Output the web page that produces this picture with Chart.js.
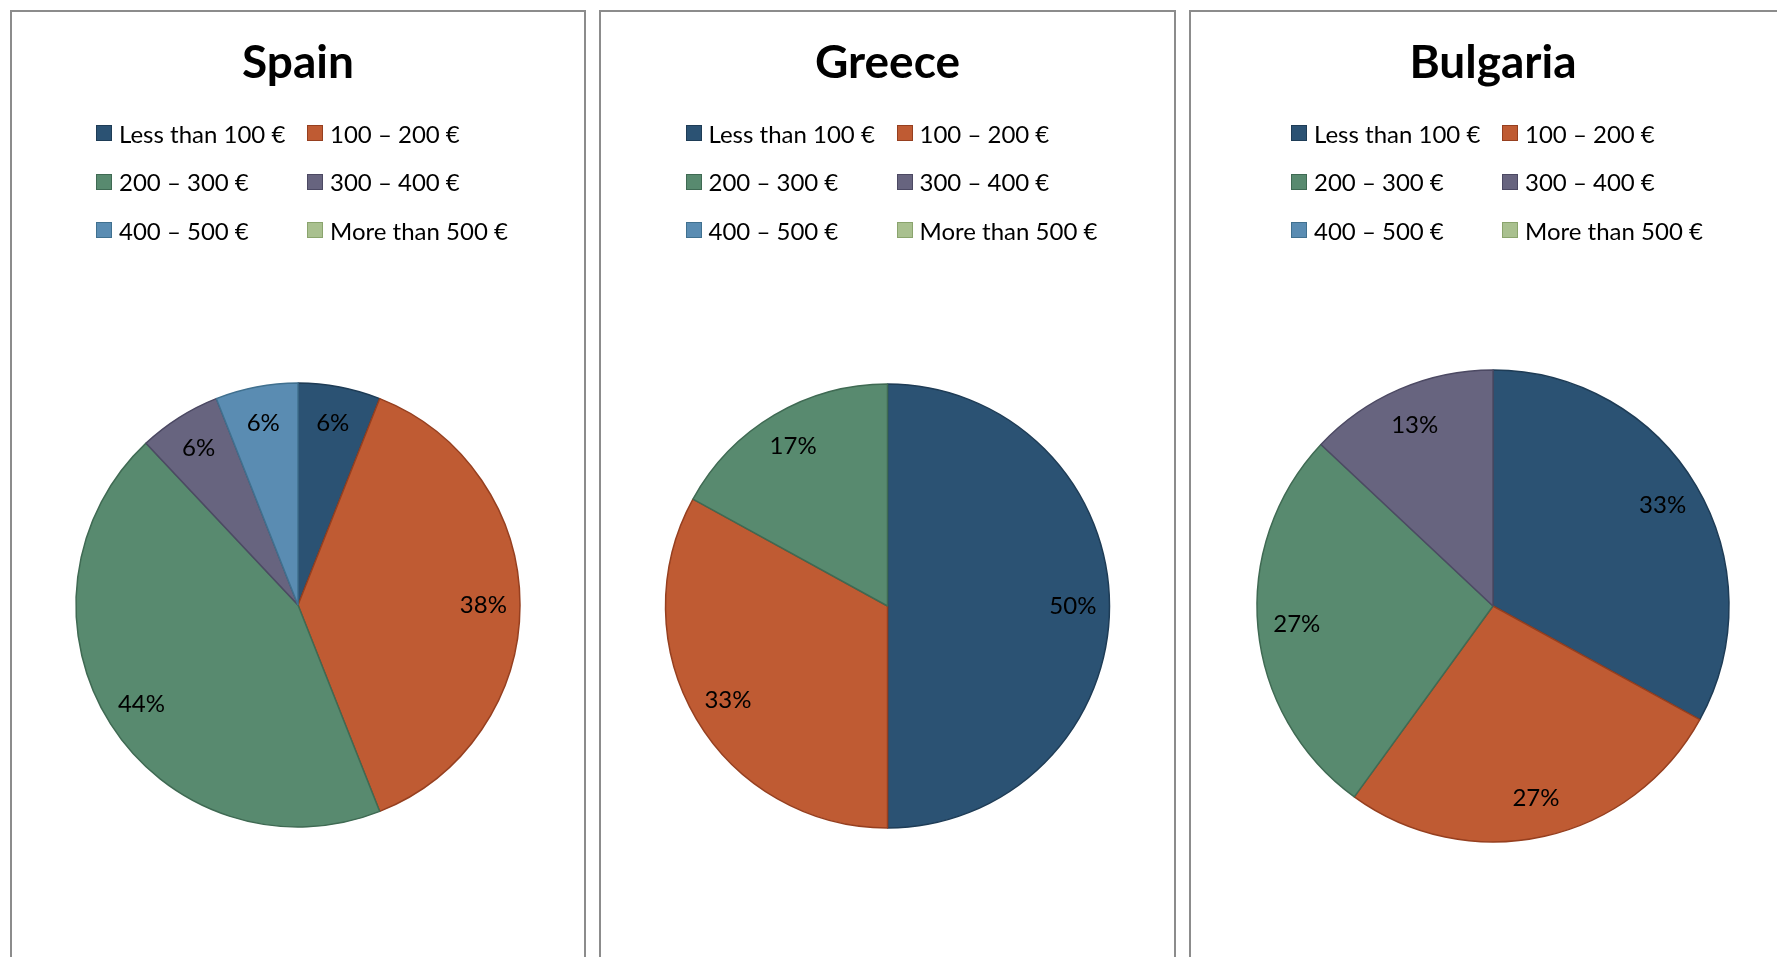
<!DOCTYPE html>
<html>
<head>
<meta charset="utf-8">
<script src="https://cdn.jsdelivr.net/npm/chart.js@4.4.1/dist/chart.umd.min.js"></script>
<style>
html, body { margin:0; padding:0; background:#ffffff; overflow:hidden; width:1777px; height:957px; }
.panel { position:absolute; top:10px; height:1150px; border:2px solid #8c8c8c; background:#fff; }
.panel canvas { position:absolute; left:0; top:0; }
.legend { position:absolute; top:97px; left:50%; margin-left:-202px; width:404px;
  display:grid; grid-template-columns:211px 193px; grid-auto-rows:48.5px;
  font-family:Lato, "Liberation Sans", sans-serif; font-size:24px; color:#000; }
.item { display:flex; align-items:center; white-space:nowrap; }
.box { width:14px; height:14px; border:1px solid; margin-right:7px; flex:none; }
</style>
</head>
<body>
<div class="panel" style="left:10px;width:572px"><canvas id="c0"></canvas><div class="legend" id="l0"></div></div>
<div class="panel" style="left:599px;width:573px"><canvas id="c1"></canvas><div class="legend" id="l1"></div></div>
<div class="panel" style="left:1189px;width:604px"><canvas id="c2"></canvas><div class="legend" id="l2"></div></div>
<script>
// ---- data ----
const categories = ['Less than 100 €', '100 – 200 €', '200 – 300 €', '300 – 400 €', '400 – 500 €', 'More than 500 €'];
const countries = ['Spain', 'Greece', 'Bulgaria'];
const spainValues = [6, 38, 44, 6, 6, 0];
const greeceValues = [50, 33, 17, 0, 0, 0];
const bulgariaValues = [33, 27, 27, 13, 0, 0];

// ---- styles ----
const fillColors = ['#2b5273', '#bf5b33', '#588a6f', '#67647f', '#5a8cb2', '#a9c08f'];
const edgeColors = ['#1e3c56', '#963f1f', '#3f6a53', '#4c4963', '#40708f', '#8aa46d'];

const pctLabels = {
  id: 'pctLabels',
  afterDatasetsDraw(chart) {
    const ctx = chart.ctx;
    const data = chart.data.datasets[0].data;
    const total = data.reduce((a, b) => a + b, 0);
    const meta = chart.getDatasetMeta(0);
    ctx.save();
    ctx.font = '24px Lato';
    ctx.fillStyle = '#000';
    ctx.textAlign = 'center';
    ctx.textBaseline = 'middle';
    meta.data.forEach((arc, i) => {
      const v = data[i];
      if (!v) return;
      const p = arc.getProps(['x', 'y', 'startAngle', 'endAngle', 'outerRadius'], true);
      const mid = (p.startAngle + p.endAngle) / 2;
      const r = p.outerRadius * 0.835;
      ctx.fillText(Math.round(v / total * 100) + '%', p.x + Math.cos(mid) * r, p.y + Math.sin(mid) * r);
    });
    ctx.restore();
  }
};

const htmlLegend = {
  id: 'htmlLegend',
  afterUpdate(chart, args, opts) {
    const el = document.getElementById(opts.containerID);
    el.innerHTML = '';
    const items = chart.options.plugins.legend.labels.generateLabels(chart);
    items.forEach((it, i) => {
      const d = document.createElement('div');
      d.className = 'item';
      const b = document.createElement('span');
      b.className = 'box';
      b.style.background = fillColors[i];
      b.style.borderColor = edgeColors[i];
      const t = document.createElement('span');
      t.textContent = it.text;
      d.appendChild(b); d.appendChild(t);
      el.appendChild(d);
    });
  }
};

const seriesList = [spainValues, greeceValues, bulgariaValues];
const panelWidths = [572, 573, 604];
const centersY = [605, 606, 606];
const radii = [222, 222, 236];

const canvasTop = 12, canvasH = 1150;
const titleSize = 46, titleLH = 1.2, titlePadTop = 23.5, titlePadBottom = 10;

countries.forEach((name, k) => {
  const cv = document.getElementById('c' + k);
  cv.width = panelWidths[k];
  cv.height = canvasH;
  const T = canvasTop + titlePadTop + titleSize * titleLH + titlePadBottom;
  const B = 2 * centersY[k] - T;
  const padBottom = canvasTop + canvasH - B;
  new Chart(cv, {
    type: 'pie',
    data: {
      labels: categories,
      datasets: [{
        data: seriesList[k],
        backgroundColor: fillColors,
        borderColor: edgeColors,
        borderWidth: ctx => (ctx.raw > 0 ? 1.5 : 0),
        hoverOffset: 0
      }]
    },
    options: {
      responsive: false,
      animation: false,
      devicePixelRatio: 1,
      radius: radii[k],
      layout: { padding: { top: 0, left: 0, right: 0, bottom: padBottom } },
      plugins: {
        legend: { display: false },
        tooltip: { enabled: false },
        title: {
          display: true,
          text: name,
          color: '#000',
          font: { family: 'Lato', size: titleSize, weight: 'bold', lineHeight: titleLH },
          padding: { top: titlePadTop, bottom: titlePadBottom }
        },
        htmlLegend: { containerID: 'l' + k }
      }
    },
    plugins: [pctLabels, htmlLegend]
  });
});
</script>
</body>
</html>
